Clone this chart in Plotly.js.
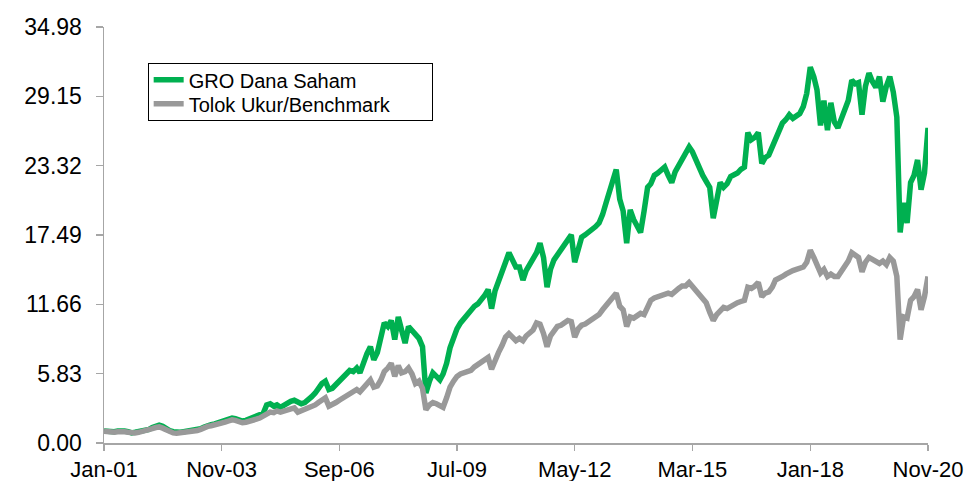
<!DOCTYPE html>
<html><head><meta charset="utf-8">
<script src="https://cdn.plot.ly/plotly-3.0.1.min.js"></script>
<style>html,body{margin:0;padding:0;background:#fff;} #chart{width:972px;height:481px;}</style>
</head><body><div id="chart"></div>
<script>
const startYear = 2001;
const seriesNames = ['GRO Dana Saham', 'Tolok Ukur/Benchmark'];
// monthly values, Jan-2001 .. Nov-2020
const gro = [
  1.0, 0.95, 0.9, 0.95, 1.0, 1.05, 1.0, 0.95, 0.85, 0.9, 0.95, 1.0,          // 2001
  1.05, 1.15, 1.3, 1.45, 1.5, 1.4, 1.2, 1.05, 0.95, 0.9, 0.9, 0.95,          // 2002
  1.0, 0.95, 1.0, 1.1, 1.2, 1.35, 1.5, 1.55, 1.6, 1.7, 1.8, 1.9,             // 2003
  2.0, 2.1, 2.05, 1.95, 1.85, 1.9, 2.0, 2.1, 2.2, 2.35, 2.5, 3.2,            // 2004
  3.3, 3.1, 3.2, 3.0, 3.2, 3.3, 3.5, 3.6, 3.5, 3.3, 3.4, 3.6,                // 2005
  3.9, 4.2, 4.6, 5.0, 5.2, 4.5, 4.6, 4.9, 5.1, 5.4, 5.8, 6.1,                // 2006
  6.0, 6.3, 5.9, 6.8, 7.5, 8.1, 7.0, 7.6, 8.8, 10.1, 9.8, 10.3,              // 2007
  8.7, 10.6, 9.5, 8.4, 9.8, 9.5, 9.2, 8.8, 8.1, 4.2, 5.2, 5.9,               // 2008
  5.6, 5.3, 5.8, 6.7, 8.0, 9.0, 9.6, 10.1, 10.5, 10.8, 11.2, 11.5,           // 2009
  11.7, 12.0, 12.4, 12.9, 11.3, 12.8, 13.7, 14.5, 15.2, 16.0, 15.3, 14.8,    // 2010
  14.8, 13.7, 14.5, 15.0, 15.4, 16.0, 16.8, 15.6, 13.1, 14.6, 15.4, 15.8,    // 2011
  16.3, 16.8, 17.2, 17.5, 15.2, 16.5, 17.3, 17.5, 17.7, 17.9, 18.2, 18.5,    // 2012
  19.2, 20.2, 21.0, 22.0, 23.0, 20.5, 19.5, 16.8, 19.6, 18.8, 18.3, 17.7,    // 2013
  19.5, 21.5, 21.8, 22.5, 22.7, 22.9, 23.2, 22.5, 21.9, 22.8, 23.3, 23.8,    // 2014
  24.3, 24.9, 24.5, 23.8, 23.0, 22.5, 22.0, 21.5, 18.9, 20.5, 21.9, 21.5,    // 2015
  21.8, 22.4, 22.5, 22.7, 23.0, 23.2, 26.1, 25.5, 25.7, 26.1, 23.5, 24.0,    // 2016
  24.2, 24.9, 25.5, 26.2, 26.9, 27.2, 27.6, 27.3, 27.5, 27.7, 28.3, 29.4,    // 2017
  31.6, 30.8, 29.7, 26.7, 28.8, 26.3, 28.6, 27.0, 26.5, 27.2, 28.0, 28.8,    // 2018
  30.5, 30.2, 30.3, 27.6, 30.0, 31.1, 30.4, 29.9, 30.8, 28.7, 30.0, 30.8,    // 2019
  29.5, 27.4, 17.7, 20.2, 18.5, 21.9, 22.5, 23.8, 21.3, 22.7, 26.5           // 2020
];
const bench = [
  1.0, 0.95, 0.88, 0.9, 0.95, 1.0, 0.95, 0.9, 0.82, 0.85, 0.9, 0.95,         // 2001
  1.0, 1.1, 1.2, 1.3, 1.35, 1.25, 1.1, 0.95, 0.85, 0.82, 0.85, 0.9,          // 2002
  0.95, 0.9, 0.95, 1.05, 1.15, 1.3, 1.4, 1.45, 1.5, 1.6, 1.7, 1.75,          // 2003
  1.85, 1.95, 1.9, 1.8, 1.7, 1.75, 1.8, 1.9, 2.0, 2.1, 2.3, 2.5,             // 2004
  2.6, 2.55, 2.7, 2.6, 2.7, 2.8, 2.9, 2.95, 2.6, 2.7, 2.8, 2.9,              // 2005
  3.0, 3.2, 3.4, 3.6, 3.8, 3.1, 3.2, 3.4, 3.6, 3.8, 4.0, 4.2,                // 2006
  4.3, 4.5, 4.3, 4.7, 5.0, 5.3, 4.7, 4.8, 5.3, 6.0, 6.3, 6.7,                // 2007
  5.6, 6.5, 5.9, 6.0, 6.3, 5.8, 5.0, 5.2, 4.6, 2.8, 3.2, 3.4,                // 2008
  3.3, 3.1, 3.0, 3.8, 4.7, 5.2, 5.6, 5.8, 5.9, 6.0, 6.1, 6.4,                // 2009
  6.6, 6.8, 7.0, 7.2, 6.2, 7.0, 7.6, 8.2, 8.9, 9.2, 8.8, 8.6,                // 2010
  8.8, 8.6, 9.0, 9.3, 9.5, 10.1, 10.0, 9.2, 8.1, 9.0, 9.5, 9.8,              // 2011
  9.9, 10.1, 10.3, 10.2, 8.9, 9.6, 9.9, 10.0, 10.2, 10.4, 10.6, 10.8,        // 2012
  11.2, 11.6, 12.0, 12.3, 12.6, 11.5, 11.2, 9.8, 10.6, 10.5, 10.7, 10.9,     // 2013
  10.8, 11.5, 12.0, 12.2, 12.3, 12.4, 12.5, 12.6, 12.5, 12.8, 13.0, 13.2,    // 2014
  13.2, 13.5, 13.2, 12.9, 12.6, 12.2, 11.8, 11.0, 10.3, 10.8, 11.2, 11.4,    // 2015
  11.3, 11.5, 11.7, 11.8, 11.9, 12.0, 13.1, 13.0, 13.2, 13.5, 12.3, 12.6,    // 2016
  12.7, 13.1, 13.7, 13.8, 14.0, 14.2, 14.4, 14.5, 14.6, 14.7, 14.8, 15.2,    // 2017
  16.2, 15.6, 15.0, 14.3, 14.6, 14.0, 14.2, 14.0, 14.0, 14.4, 14.8, 15.3,    // 2018
  16.0, 15.8, 15.6, 14.4, 15.2, 15.6, 15.4, 15.2, 15.1, 15.3, 15.0, 15.6,    // 2019
  15.3, 14.0, 8.7, 10.6, 10.5, 12.0, 12.3, 12.9, 11.2, 12.3, 14.0            // 2020
];
const xTickDates = ['2001-01-01','2003-11-01','2006-09-01','2009-07-01','2012-05-01','2015-03-01','2018-01-01','2020-11-01'];
const xTickLabels = ['Jan-01','Nov-03','Sep-06','Jul-09','May-12','Mar-15','Jan-18','Nov-20'];
const yTickVals = [0, 5.83, 11.66, 17.49, 23.32, 29.15, 34.98];
const yTickLabels = ['0.00','5.83','11.66','17.49','23.32','29.15','34.98'];

const dates = gro.map((_, i) => {
  const y = startYear + Math.floor(i / 12);
  const m = (i % 12) + 1;
  return y + '-' + String(m).padStart(2, '0') + '-01';
});

const font = 'Liberation Sans, Arial, sans-serif';
const axisColor = '#a6a6a6';

const traces = [
  {x: dates, y: gro, name: seriesNames[0], type: 'scatter', mode: 'lines',
   line: {color: '#00b050', width: 5.5}},
  {x: dates, y: bench, name: seriesNames[1], type: 'scatter', mode: 'lines',
   line: {color: '#999999', width: 5.5}}
];

const layout = {
  width: 972, height: 481,
  margin: {l: 104, r: 44, t: 27, b: 38, pad: 0},
  paper_bgcolor: '#ffffff', plot_bgcolor: '#ffffff',
  font: {family: font, color: '#000000', size: 22},
  showlegend: true,
  legend: {
    x: 0.053, y: 0.913, xanchor: 'left', yanchor: 'top',
    bgcolor: '#ffffff', bordercolor: '#000000', borderwidth: 1,
    font: {family: font, size: 20, color: '#000000'},
    tracegroupgap: 0
  },
  xaxis: {
    type: 'date',
    range: ['2001-01-01', '2020-11-01'],
    tickmode: 'array', tickvals: xTickDates, ticktext: xTickLabels,
    showgrid: false, zeroline: false,
    showline: true, linecolor: axisColor, linewidth: 1.5,
    ticks: 'outside', ticklen: 6, tickcolor: axisColor, tickwidth: 1.5,
    ticklabelstandoff: 0,
    tickfont: {family: font, size: 22, color: '#000000'}
  },
  yaxis: {
    range: [0, 34.98],
    tickmode: 'array', tickvals: yTickVals, ticktext: yTickLabels,
    showgrid: false, zeroline: false,
    showline: true, linecolor: axisColor, linewidth: 1.5,
    ticks: 'outside', ticklen: 7, tickcolor: axisColor, tickwidth: 1.5,
    ticklabelstandoff: 9,
    tickfont: {family: font, size: 23, color: '#000000'}
  }
};

Plotly.newPlot('chart', traces, layout, {displayModeBar: false, staticPlot: true}).then(gd => {
  // tighten legend row spacing and widen the box to match the reference
  const lift = 4, shift = 5;
  const items = gd.querySelectorAll('.legend .traces');
  items.forEach((el, i) => {
    const t = el.getAttribute('transform') || '';
    const m = /translate\(\s*([-\d.]+)[ ,]+([-\d.]+)\s*\)/.exec(t);
    if (m) el.setAttribute('transform', 'translate(' + m[1] + ',' + (parseFloat(m[2]) - lift - shift * i) + ')');
  });
  const bg = gd.querySelector('.legend .bg');
  if (bg) {
    bg.setAttribute('height', parseFloat(bg.getAttribute('height')) - shift * (items.length - 1) - 7);
    bg.setAttribute('width', 284);
  }
});
</script>
</body></html>
